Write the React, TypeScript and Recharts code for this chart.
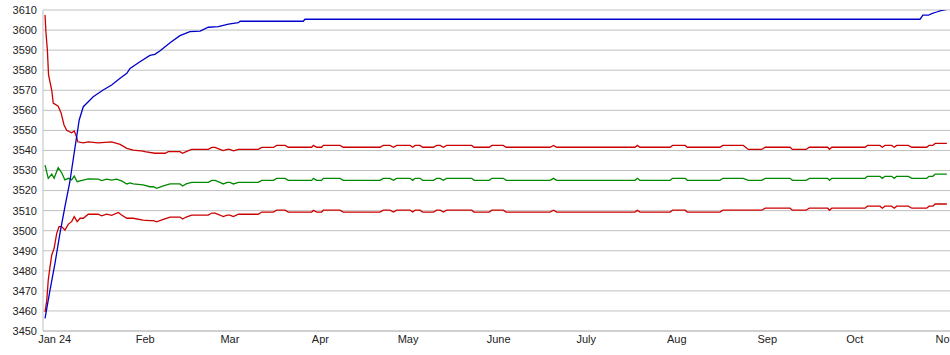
import { LineChart, Line, XAxis, YAxis, CartesianGrid } from 'recharts'

// x values are days since 1 Jan 2024 (fractions where a line moves within a day)
const monthTicks = [0, 31, 60, 91, 121, 152, 182, 213, 244, 274, 305]
const monthLabels = ['Jan 24', 'Feb', 'Mar', 'Apr', 'May', 'June', 'July', 'Aug', 'Sep', 'Oct', 'Nov']
const valueTicks = [3450, 3460, 3470, 3480, 3490, 3500, 3510, 3520, 3530, 3540, 3550, 3560, 3570, 3580, 3590, 3600, 3610]

const blueDays = [
  -3.3, -1.6, 0.1, 1.8, 3.5, 5.2, 7.0, 8.4, 9.8, 11.5, 13.2, 16.6, 19.5, 22.4, 24.7, 25.8, 29.2, 32.6, 34.3,
  36.1, 39.5, 42.9, 46.3, 49.8, 52.6, 56.0, 59.5, 62.9, 63.5, 85.1, 85.7, 296.3, 297.3, 299.2, 300.3, 302.0,
  303.8, 305.5,
]
const blueValues = [
  3456.3, 3470.4, 3483.7, 3498.7, 3511.9, 3524.4, 3541.9, 3555.2, 3561.8, 3564.3, 3566.8, 3570.1, 3572.6,
  3576.0, 3578.4, 3580.9, 3584.2, 3587.4, 3587.9, 3589.7, 3593.7, 3597.2, 3599.2, 3599.5, 3601.4, 3601.7,
  3603.0, 3603.7, 3604.4, 3604.4, 3605.4, 3605.4, 3607.4, 3607.4, 3608.2, 3609.0, 3609.8, 3610.3,
]

// the three band lines share their breakpoints from mid March on
const lateDays = [
  88.0, 88.6, 89.7, 91.4, 92.0, 97.7, 98.8, 111.4, 112.5, 114.8, 116.0, 117.1, 121.7, 122.6, 123.4, 125.1,
  126.0, 129.7, 130.8, 132.0, 133.1, 134.2, 142.8, 143.6, 148.8, 149.7, 153.6, 154.6, 169.6, 170.8, 171.9,
  198.7, 199.5, 200.4, 210.7, 211.6, 215.9, 216.6, 227.8, 228.8, 235.8, 237.5, 242.1, 243.3, 251.8, 252.6,
  257.3, 258.4, 264.7, 265.3, 266.1, 277.5, 278.3, 282.6, 283.4, 284.3, 286.6, 287.5, 288.3, 292.3, 293.5,
  298.6, 299.4, 300.7, 301.5, 305.5,
]

const upperEarlyDays = [
  -3.3, -3.0, -2.5, -2.1, -1.0, -0.5, 1.2, 2.2, 3.2, 4.1, 5.8, 6.7, 7.5, 7.9, 9.8, 11.5, 14.9, 19.5, 22.4,
  24.7, 26.9, 30.3, 30.9, 34.3, 37.8, 38.9, 42.9, 43.8, 45.0, 46.9, 52.6, 53.8, 54.9, 56.6, 57.7, 59.1, 60.0,
  61.2, 62.9, 69.7, 70.9, 74.9, 76.0, 78.9, 80.0,
]
const upperValues = [
  3607.5, 3599, 3590, 3577.6, 3570, 3563.6, 3562, 3558.7, 3552.7, 3550, 3548.8, 3549.7, 3546.8, 3544.3,
  3543.8, 3544.3, 3543.8, 3544.3, 3543, 3541, 3540.2, 3539.7, 3539.4, 3538.6, 3538.6, 3539.4, 3539.4, 3538.6,
  3539.4, 3540.5, 3540.5, 3541.5, 3541.5, 3540.5, 3539.9, 3540.5, 3540.5, 3539.8, 3540.5, 3540.5, 3541.5,
  3541.5, 3542.5, 3542.5, 3541.6,
  // lateDays
  3541.6, 3542.5, 3541.6, 3541.6, 3542.5, 3542.5, 3541.6, 3541.6, 3542.5, 3542.5, 3541.6, 3542.5, 3542.5,
  3541.6, 3542.5, 3542.5, 3541.6, 3541.6, 3542.5, 3542.5, 3541.6, 3542.5, 3542.5, 3541.6, 3541.6, 3542.5,
  3542.5, 3541.6, 3541.6, 3542.5, 3541.6, 3541.6, 3542.5, 3541.6, 3541.6, 3542.5, 3542.5, 3541.6, 3541.6,
  3542.5, 3542.5, 3540.5, 3540.5, 3541.6, 3541.6, 3540.5, 3540.5, 3541.6, 3541.6, 3540.6, 3541.6, 3541.6,
  3542.5, 3542.5, 3541.6, 3542.5, 3542.5, 3541.6, 3542.5, 3542.5, 3541.6, 3541.6, 3542.5, 3542.5, 3543.5,
  3543.5,
]

const meanEarlyDays = [
  -3.3, -2.2, -1.0, -0.2, 1.2, 2.4, 3.5, 4.7, 5.8, 6.7, 7.7, 8.7, 11.5, 14.9, 16.1, 17.8, 19.5, 21.2, 22.9,
  24.7, 25.8, 26.9, 30.3, 32.6, 33.8, 34.9, 37.2, 39.5, 42.9, 43.8, 45.0, 46.9, 52.6, 53.8, 54.9, 56.6, 57.7,
  59.1, 60.0, 61.2, 62.9, 69.7, 70.9, 74.9, 76.0, 78.9, 80.0,
]
const meanValues = [
  3532.7, 3526.1, 3528.2, 3526.1, 3531.4, 3528.9, 3525.3, 3526.1, 3525.3, 3527.2, 3524.4, 3524.8, 3525.8,
  3525.7, 3525.0, 3525.7, 3525.2, 3525.7, 3524.8, 3523.3, 3523.8, 3523.3, 3522.8, 3521.9, 3521.9, 3521.1,
  3522.3, 3523.3, 3523.3, 3522.3, 3523.3, 3524.1, 3524.1, 3525.1, 3525.1, 3524.1, 3523.3, 3524.1, 3524.1,
  3523.3, 3524.1, 3524.1, 3525.1, 3525.1, 3526.1, 3526.1, 3525.1,
  // lateDays
  3525.1, 3526.1, 3525.1, 3525.1, 3526.1, 3526.1, 3525.1, 3525.1, 3526.1, 3526.1, 3525.1, 3526.1, 3526.1,
  3525.1, 3526.1, 3526.1, 3525.1, 3525.1, 3526.1, 3526.1, 3525.1, 3526.1, 3526.1, 3525.1, 3525.1, 3526.1,
  3526.1, 3525.1, 3525.1, 3526.1, 3525.1, 3525.1, 3526.1, 3525.1, 3525.1, 3526.1, 3526.1, 3525.1, 3525.1,
  3526.1, 3526.1, 3525.1, 3525.1, 3526.1, 3526.1, 3525.1, 3525.1, 3526.1, 3526.1, 3525.1, 3526.1, 3526.1,
  3527.1, 3527.1, 3526.1, 3527.1, 3527.1, 3526.1, 3527.1, 3527.1, 3526.1, 3526.1, 3527.1, 3527.1, 3528.2,
  3528.2,
]

const lowerEarlyDays = [
  -3.3, -2.7, -2.2, -1.6, -1.0, -0.2, 0.7, 1.5, 2.4, 3.5, 4.7, 5.8, 6.7, 7.7, 8.7, 9.8, 11.5, 14.9, 16.1,
  17.8, 19.5, 21.8, 22.9, 24.7, 26.9, 30.3, 32.6, 33.8, 34.9, 37.2, 39.5, 42.9, 43.8, 45.0, 46.9, 52.6, 53.8,
  54.9, 56.6, 57.7, 59.1, 60.0, 61.2, 62.9, 69.7, 70.9, 74.9, 76.0, 78.9, 80.0,
]
const lowerValues = [
  3459.5, 3465.4, 3475.4, 3482, 3487.9, 3491.2, 3498.7, 3502, 3502, 3500.3, 3503.3, 3504.5, 3507, 3504.5,
  3506.2, 3506.2, 3508.2, 3508.2, 3507.4, 3508.2, 3507.6, 3509.1, 3507.8, 3506.2, 3506.2, 3505.3, 3505.0,
  3505.0, 3504.4, 3505.6, 3506.8, 3506.8, 3505.8, 3506.8, 3507.8, 3507.8, 3508.8, 3508.8, 3507.8, 3507.0,
  3507.8, 3507.8, 3507.0, 3508.2, 3508.2, 3509.3, 3509.3, 3510.2, 3510.2, 3509.3,
  // lateDays
  3509.3, 3510.2, 3509.3, 3509.3, 3510.2, 3510.2, 3509.3, 3509.3, 3510.2, 3510.2, 3509.3, 3510.2, 3510.2,
  3509.3, 3510.2, 3510.2, 3509.3, 3509.3, 3510.2, 3510.2, 3509.3, 3510.2, 3510.2, 3509.3, 3509.3, 3510.2,
  3510.2, 3509.3, 3509.3, 3510.2, 3509.3, 3509.3, 3510.2, 3509.3, 3509.3, 3510.2, 3510.2, 3509.3, 3509.3,
  3510.2, 3510.2, 3510.2, 3510.2, 3511.2, 3511.2, 3510.2, 3510.2, 3511.2, 3511.2, 3510.2, 3511.2, 3511.2,
  3512.2, 3512.2, 3511.2, 3512.2, 3512.2, 3511.2, 3512.2, 3512.2, 3511.2, 3511.2, 3512.2, 3512.2, 3513.3,
  3513.3,
]

function points(days: number[], values: number[]) {
  return days.map((day, i) => ({ day, value: values[i] }))
}

const blueData = points(blueDays, blueValues)
const upperData = points([...upperEarlyDays, ...lateDays], upperValues)
const meanData = points([...meanEarlyDays, ...lateDays], meanValues)
const lowerData = points([...lowerEarlyDays, ...lateDays], lowerValues)

const tickStyle = { fontFamily: '"Liberation Sans", Arial, sans-serif', fontSize: 11, fill: '#222' }
const GRID = '#c0c0c0'

export default function App() {
  return (
    <div style={{ position: 'fixed', left: 0, top: 0, width: 950, height: 355, overflow: 'hidden', background: '#fff' }}>
      <LineChart width={980} height={355} margin={{ top: 10, right: 20, bottom: 0, left: 0 }}>
        <CartesianGrid vertical={false} stroke={GRID} />
        <XAxis
          dataKey="day"
          type="number"
          domain={[-4, 310]}
          ticks={monthTicks}
          interval={0}
          tickFormatter={(d: number) => monthLabels[monthTicks.indexOf(d)] ?? ''}
          tick={tickStyle}
          tickLine={false}
          tickSize={0}
          tickMargin={4}
          height={24}
          stroke={GRID}
          allowDataOverflow
        />
        <YAxis
          type="number"
          domain={[3450, 3610]}
          ticks={valueTicks}
          interval={0}
          tick={tickStyle}
          tickLine={false}
          tickMargin={0}
          width={43}
          stroke={GRID}
          allowDataOverflow
        />
        <Line data={upperData} dataKey="value" stroke="#cc0000" strokeWidth={1.3} dot={false} activeDot={false} isAnimationActive={false} />
        <Line data={lowerData} dataKey="value" stroke="#cc0000" strokeWidth={1.3} dot={false} activeDot={false} isAnimationActive={false} />
        <Line data={meanData} dataKey="value" stroke="#008800" strokeWidth={1.3} dot={false} activeDot={false} isAnimationActive={false} />
        <Line data={blueData} dataKey="value" stroke="#0000cc" strokeWidth={1.3} dot={false} activeDot={false} isAnimationActive={false} />
      </LineChart>
    </div>
  )
}
